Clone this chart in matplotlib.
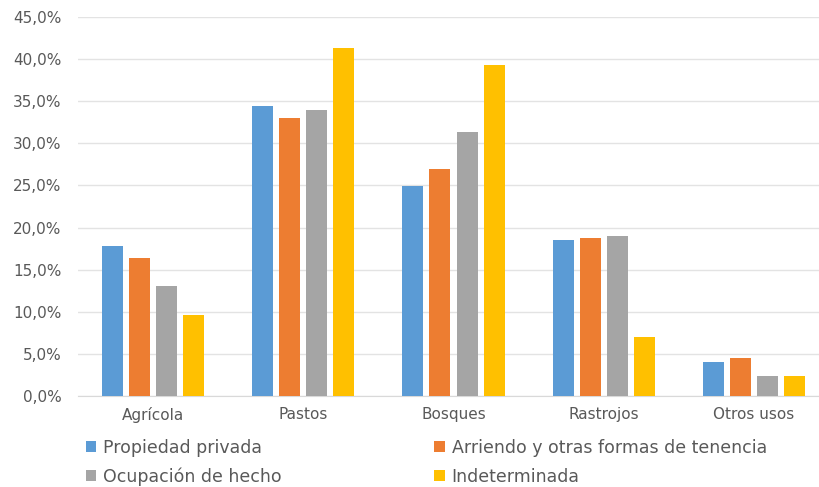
import matplotlib
matplotlib.use("Agg")
import matplotlib.pyplot as plt
import numpy as np
from matplotlib.ticker import FuncFormatter, MultipleLocator

plt.rcParams["font.family"] = ["DejaVu Sans"]

categories = ["Agrícola", "Pastos", "Bosques", "Rastrojos", "Otros usos"]
series_names = ["Propiedad privada", "Arriendo y otras formas de tenencia",
                "Ocupación de hecho", "Indeterminada"]
propiedad_privada = [17.8, 34.4, 24.9, 18.5, 4.0]
arriendo = [16.4, 33.0, 27.0, 18.8, 4.5]
ocupacion = [13.1, 33.9, 31.3, 19.0, 2.4]
indeterminada = [9.6, 41.3, 39.3, 7.0, 2.4]
colors = ["#5B9BD5", "#ED7D31", "#A5A5A5", "#FFC000"]

values = [propiedad_privada, arriendo, ocupacion, indeterminada]

fig = plt.figure(figsize=(8.19, 4.87), dpi=100)
left = 78 / 819
right = 829 / 819
bottom = (487 - 396) / 487
top = (487 - 17) / 487
ax = fig.add_axes([left, bottom, right - left, top - bottom])

x = np.arange(len(categories))
bw = 0.14
pitch = 0.18
handles = []
for i, (vals, c) in enumerate(zip(values, colors)):
    b = ax.bar(x + (i - 1.5) * pitch, vals, width=bw, color=c, zorder=3,
               label=series_names[i])
    handles.append(b)

ax.set_xlim(-0.5, len(categories) - 0.5)
ax.set_ylim(0, 45)
ax.yaxis.set_major_locator(MultipleLocator(5))
ax.yaxis.set_major_formatter(FuncFormatter(lambda v, p: f"{v:.1f}".replace(".", ",") + "%"))
ax.set_xticks(x)
ax.set_xticklabels(categories)
ax.grid(axis="y", color="#E3E3E3", linewidth=1.0, zorder=0)
for s in ["top", "right", "left"]:
    ax.spines[s].set_visible(False)
ax.spines["bottom"].set_color("#D9D9D9")
ax.tick_params(axis="both", length=0, colors="#595959", labelsize=11)
ax.tick_params(axis="y", pad=12)
ax.tick_params(axis="x", pad=8)

order = [0, 2, 1, 3]
leg = fig.legend([handles[i] for i in order], [series_names[i] for i in order],
                 ncol=2, loc="upper left", bbox_to_anchor=(86 / 819, 1 - 439 / 487),
                 frameon=False, fontsize=12.5, handlelength=0.6, handleheight=0.6,
                 handletextpad=0.4, columnspacing=8.77, labelspacing=0.61,
                 borderpad=0, borderaxespad=0)
for t in leg.get_texts():
    t.set_color("#595959")

fig.savefig("out.png", dpi=100)
